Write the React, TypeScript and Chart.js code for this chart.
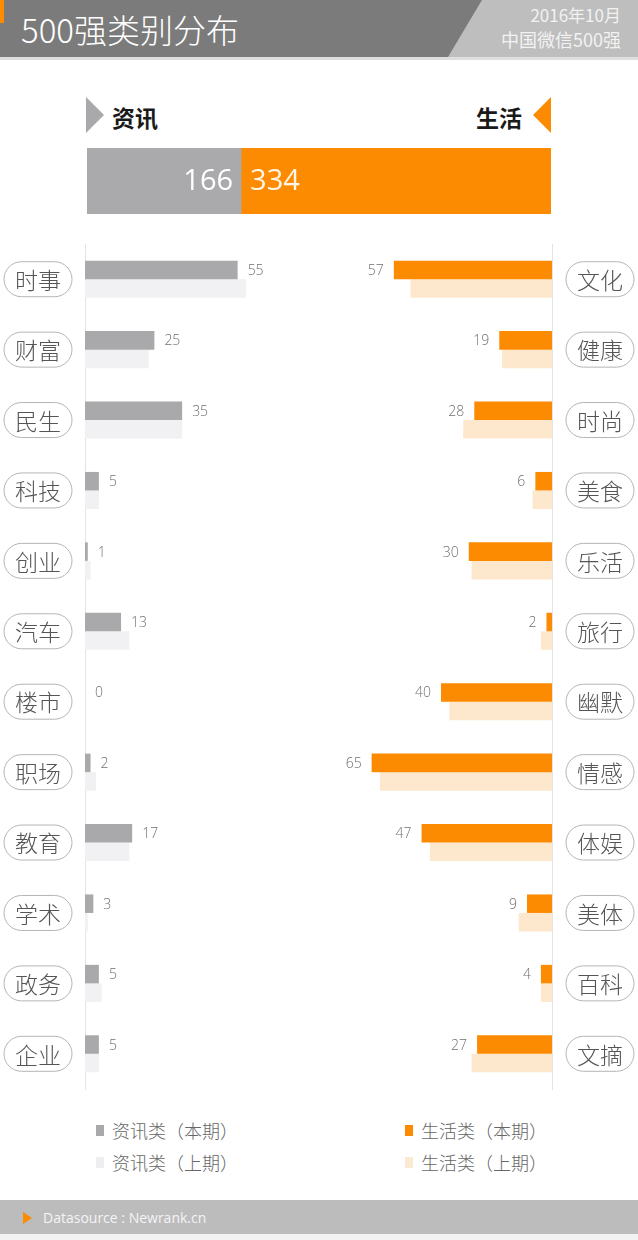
import React, { useEffect, useRef } from 'react';
import { Chart, registerables } from 'chart.js';

Chart.register(...registerables);

// ---------- data ----------
const infoCategories = ['时事', '财富', '民生', '科技', '创业', '汽车', '楼市', '职场', '教育', '学术', '政务', '企业'];
const infoCurrent = [55, 25, 35, 5, 1, 13, 0, 2, 17, 3, 5, 5];
const infoPrevious = [58, 23, 35, 5, 2, 16, 0, 4, 16, 1, 6, 5];

const lifeCategories = ['文化', '健康', '时尚', '美食', '乐活', '旅行', '幽默', '情感', '体娱', '美体', '百科', '文摘'];
const lifeCurrent = [57, 19, 28, 6, 30, 2, 40, 65, 47, 9, 4, 27];
const lifePrevious = [51, 18, 32, 7, 29, 4, 37, 62, 44, 12, 4, 29];

const groupNames = ['资讯', '生活'];
const groupTotals = [166, 334];

const seriesLabels = ['资讯类（本期）', '资讯类（上期）', '生活类（本期）', '生活类（上期）'];

const titleText = '500强类别分布';
const subtitleLines = ['2016年10月', '中国微信500强'];
const sourceText = 'Datasource : Newrank.cn';

const axisMax = 80;

// ---------- styles ----------
const GRAY = '#a9a8aa';
const GRAY_LIGHT = '#f1f0f2';
const ORANGE = '#fd8b02';
const ORANGE_LIGHT = '#fde8cd';
const CJK = "'Noto Sans CJK SC', 'Open Sans', sans-serif";
const NUM = "'Open Sans', 'Noto Sans CJK SC', sans-serif";

const pillPlugin = {
  id: 'pills',
  afterDraw(chart: any, _args: any, opts: any) {
    const { ctx } = chart;
    const yScale = chart.scales.y;
    const labels: string[] = chart.data.labels;
    ctx.save();
    labels.forEach((lab, i) => {
      const cy = yScale.getPixelForValue(i);
      const x = opts.left;
      const w = opts.width;
      const h = 35;
      const r = h / 2;
      const top = cy - h / 2;
      ctx.beginPath();
      ctx.moveTo(x + r, top);
      ctx.lineTo(x + w - r, top);
      ctx.arc(x + w - r, cy, r, -Math.PI / 2, Math.PI / 2);
      ctx.lineTo(x + r, top + h);
      ctx.arc(x + r, cy, r, Math.PI / 2, (3 * Math.PI) / 2);
      ctx.closePath();
      ctx.fillStyle = '#ffffff';
      ctx.fill();
      ctx.lineWidth = 1;
      ctx.strokeStyle = '#b4b4b4';
      ctx.stroke();
      ctx.fillStyle = '#555555';
      ctx.font = `300 23px ${CJK}`;
      ctx.textAlign = 'center';
      ctx.textBaseline = 'middle';
      ctx.fillText(lab, x + w / 2, cy + 1);
    });
    ctx.restore();
  },
};

const valuePlugin = {
  id: 'values',
  afterDatasetsDraw(chart: any, _args: any, opts: any) {
    const { ctx } = chart;
    const meta = chart.getDatasetMeta(0);
    const data = chart.data.datasets[0].data;
    ctx.save();
    ctx.font = `300 14px ${NUM}`;
    ctx.fillStyle = '#707070';
    ctx.textBaseline = 'middle';
    ctx.textAlign = opts.side === 'left' ? 'left' : 'right';
    meta.data.forEach((el: any, i: number) => {
      const x = opts.side === 'left' ? el.x + 10 : el.x - 10;
      ctx.fillText(String(data[i]), x, el.y + 1);
    });
    ctx.restore();
  },
};

const totalPlugin = {
  id: 'totals',
  afterDatasetsDraw(chart: any) {
    const { ctx } = chart;
    const m0 = chart.getDatasetMeta(0).data[0];
    ctx.save();
    ctx.font = `29px ${NUM}`;
    ctx.textBaseline = 'middle';
    ctx.fillStyle = '#ffffff';
    ctx.textAlign = 'right';
    ctx.fillText(String(chart.data.datasets[0].data[0]), m0.x - 8, m0.y + 1);
    ctx.fillStyle = '#fff6e8';
    ctx.textAlign = 'left';
    ctx.fillText(String(chart.data.datasets[1].data[0]), m0.x + 9, m0.y + 1);
    ctx.restore();
  },
};

function sideConfig(side: 'left' | 'right', labels: string[], cur: number[], prev: number[], c1: string, c2: string, l1: string, l2: string): any {
  const left = side === 'left';
  return {
    type: 'bar',
    data: {
      labels,
      datasets: [
        { label: l1, data: cur, backgroundColor: c1, borderWidth: 0, categoryPercentage: 0.526, barPercentage: 1 },
        { label: l2, data: prev, backgroundColor: c2, borderWidth: 0, categoryPercentage: 0.526, barPercentage: 1 },
      ],
    },
    options: {
      indexAxis: 'y',
      animation: false,
      responsive: true,
      maintainAspectRatio: false,
      layout: { padding: left ? { left: 85, right: 13, top: 4, bottom: 6 } : { left: 10, right: 86, top: 4, bottom: 6 } },
      scales: {
        x: { display: false, min: 0, max: axisMax, reverse: !left },
        y: {
          display: true,
          position: left ? 'left' : 'right',
          ticks: { display: false },
          grid: { display: false, drawTicks: false },
          border: { display: true, color: '#e4e4e4', width: 1 },
        },
      },
      plugins: {
        legend: { display: false },
        tooltip: { enabled: false },
        pills: { left: left ? 4 : 246, width: 68 },
        values: { side },
      },
    },
    plugins: [pillPlugin, valuePlugin],
  };
}

function useChart(ref: React.RefObject<HTMLCanvasElement>, make: () => any) {
  useEffect(() => {
    if (!ref.current) return;
    const chart = new Chart(ref.current, make());
    return () => chart.destroy();
  }, []);
}

export default function App() {
  const leftRef = useRef<HTMLCanvasElement>(null);
  const rightRef = useRef<HTMLCanvasElement>(null);
  const totalRef = useRef<HTMLCanvasElement>(null);

  useChart(leftRef, () => sideConfig('left', infoCategories, infoCurrent, infoPrevious, GRAY, GRAY_LIGHT, seriesLabels[0], seriesLabels[1]));
  useChart(rightRef, () => sideConfig('right', lifeCategories, lifeCurrent, lifePrevious, ORANGE, ORANGE_LIGHT, seriesLabels[2], seriesLabels[3]));
  useChart(totalRef, () => ({
    type: 'bar',
    data: {
      labels: [''],
      datasets: [
        { label: groupNames[0], data: [groupTotals[0]], backgroundColor: '#aaa9ab', borderWidth: 0, categoryPercentage: 1, barPercentage: 1 },
        { label: groupNames[1], data: [groupTotals[1]], backgroundColor: ORANGE, borderWidth: 0, categoryPercentage: 1, barPercentage: 1 },
      ],
    },
    options: {
      indexAxis: 'y',
      animation: false,
      responsive: true,
      maintainAspectRatio: false,
      layout: { padding: 0 },
      scales: {
        x: { display: false, stacked: true, min: 0, max: groupTotals[0] + groupTotals[1] },
        y: { display: false, stacked: true },
      },
      plugins: { legend: { display: false }, tooltip: { enabled: false } },
    },
    plugins: [totalPlugin],
  }));

  const abs = (s: React.CSSProperties): React.CSSProperties => ({ position: 'absolute', ...s });
  const legendColors = [GRAY, '#eeedf0', ORANGE, '#fbe9d3'];
  const legendPos = [
    { sq: 96, tx: 112, y: 1131 },
    { sq: 96, tx: 112, y: 1163 },
    { sq: 405, tx: 421, y: 1131 },
    { sq: 405, tx: 421, y: 1163 },
  ];

  return (
    <div style={abs({ left: 0, top: 0, width: 638, height: 1240, background: '#ffffff', overflow: 'hidden', fontFamily: CJK })}>
      {/* header */}
      <div style={abs({ left: 0, top: 0, width: 638, height: 57, background: '#7b7b7b' })} />
      <div style={abs({ left: 0, top: 0, width: 638, height: 57, background: '#bebebe', clipPath: 'polygon(482px 0, 638px 0, 638px 57px, 448px 57px)' })} />
      <div style={abs({ left: 0, top: 57, width: 638, height: 3, background: '#dedede' })} />
      <div style={abs({ left: 0, top: 0, width: 4, height: 23, background: ORANGE })} />
      <div style={abs({ left: 21, top: 11, fontSize: 33, lineHeight: '36px', color: '#ffffff', fontWeight: 300, whiteSpace: 'nowrap' })}>{titleText}</div>
      <div style={abs({ right: 17, top: 5, fontSize: 17, lineHeight: '20px', color: '#f2f2f2', textAlign: 'right', whiteSpace: 'nowrap' })}>{subtitleLines[0]}</div>
      <div style={abs({ right: 17, top: 28, fontSize: 18, lineHeight: '22px', color: '#f2f2f2', textAlign: 'right', whiteSpace: 'nowrap' })}>{subtitleLines[1]}</div>

      {/* group headings */}
      <div style={abs({ left: 86, top: 97, width: 0, height: 0, borderLeft: `18px solid ${GRAY}`, borderTop: '18px solid transparent', borderBottom: '18px solid transparent' })} />
      <div style={abs({ left: 112, top: 104, fontSize: 23, lineHeight: '26px', fontWeight: 700, color: '#1a1a1a', whiteSpace: 'nowrap' })}>{groupNames[0]}</div>
      <div style={abs({ left: 533, top: 97, width: 0, height: 0, borderRight: `18px solid ${ORANGE}`, borderTop: '18px solid transparent', borderBottom: '18px solid transparent' })} />
      <div style={abs({ left: 476, top: 104, fontSize: 23, lineHeight: '26px', fontWeight: 700, color: '#1a1a1a', whiteSpace: 'nowrap' })}>{groupNames[1]}</div>

      {/* totals bar */}
      <div style={abs({ left: 87, top: 148, width: 464, height: 66 })}>
        <canvas ref={totalRef} />
      </div>

      {/* main charts */}
      <div style={abs({ left: 0, top: 240, width: 320, height: 855 })}>
        <canvas ref={leftRef} />
      </div>
      <div style={abs({ left: 320, top: 240, width: 318, height: 855 })}>
        <canvas ref={rightRef} />
      </div>

      {/* legend */}
      {seriesLabels.map((lab, i) => (
        <React.Fragment key={lab}>
          <div style={abs({ left: legendPos[i].sq, top: legendPos[i].y - 6, width: 8, height: 11, background: legendColors[i] })} />
          <div style={abs({ left: legendPos[i].tx, top: legendPos[i].y - 12, fontSize: 18, lineHeight: '23px', color: '#666666', fontWeight: 300, whiteSpace: 'nowrap' })}>{lab}</div>
        </React.Fragment>
      ))}

      {/* footer */}
      <div style={abs({ left: 0, top: 1200, width: 638, height: 34, background: '#bcbcbd' })} />
      <div style={abs({ left: 0, top: 1234, width: 638, height: 6, background: '#f2f2f2' })} />
      <div style={abs({ left: 23, top: 1212, width: 0, height: 0, borderLeft: `9px solid ${ORANGE}`, borderTop: '6.5px solid transparent', borderBottom: '6.5px solid transparent' })} />
      <div style={abs({ left: 43, top: 1208, fontSize: 14, lineHeight: '20px', color: '#f4f4f4', fontFamily: NUM, whiteSpace: 'nowrap' })}>{sourceText}</div>
    </div>
  );
}
